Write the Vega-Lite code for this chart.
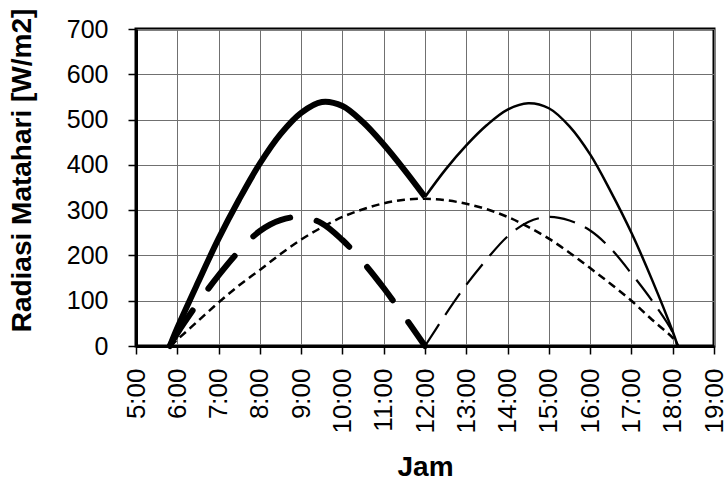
{
  "$schema": "https://vega.github.io/schema/vega-lite/v6.json",
  "width": 578,
  "height": 317,
  "autosize": {"type": "none"},
  "padding": {"left": 136, "top": 29, "right": 13, "bottom": 139},
  "background": "white",
  "config": {
    "font": "Liberation Sans",
    "view": {"stroke": "black", "strokeWidth": 3},
    "axis": {
      "gridColor": "#707070",
      "gridWidth": 1,
      "gridOpacity": 1,
      "domainColor": "black",
      "domainWidth": 3,
      "tickColor": "black",
      "tickWidth": 1.5,
      "tickSize": 8,
      "labelColor": "black",
      "labelFont": "Liberation Sans",
      "labelFontSize": 25,
      "titleColor": "black",
      "titleFont": "Liberation Sans",
      "titleFontSize": 28,
      "titleFontWeight": "bold"
    }
  },
  "data": {
    "values": [
      {"s": "A", "t": 5.82, "v": 0}, {"s": "A", "t": 6.0, "v": 40}, {"s": "A", "t": 6.5, "v": 140}, {"s": "A", "t": 7.0, "v": 237}, {"s": "A", "t": 7.5, "v": 324}, {"s": "A", "t": 8.0, "v": 403}, {"s": "A", "t": 8.5, "v": 468}, {"s": "A", "t": 9.0, "v": 515}, {"s": "A", "t": 9.5, "v": 539}, {"s": "A", "t": 10.0, "v": 530}, {"s": "A", "t": 10.5, "v": 494}, {"s": "A", "t": 11.0, "v": 445}, {"s": "A", "t": 11.5, "v": 389}, {"s": "A", "t": 12.0, "v": 329},
      {"s": "B", "t": 12.0, "v": 329}, {"s": "B", "t": 12.5, "v": 390}, {"s": "B", "t": 13.0, "v": 443}, {"s": "B", "t": 13.5, "v": 488}, {"s": "B", "t": 14.0, "v": 522}, {"s": "B", "t": 14.5, "v": 536}, {"s": "B", "t": 15.0, "v": 525}, {"s": "B", "t": 15.5, "v": 485}, {"s": "B", "t": 16.0, "v": 423}, {"s": "B", "t": 16.5, "v": 341}, {"s": "B", "t": 17.0, "v": 250}, {"s": "B", "t": 17.5, "v": 146}, {"s": "B", "t": 18.0, "v": 32}, {"s": "B", "t": 18.12, "v": 0},
      {"s": "C", "t": 5.82, "v": 0}, {"s": "C", "t": 6.0, "v": 28}, {"s": "C", "t": 6.5, "v": 95}, {"s": "C", "t": 7.0, "v": 156}, {"s": "C", "t": 7.5, "v": 210}, {"s": "C", "t": 8.0, "v": 254}, {"s": "C", "t": 8.5, "v": 278}, {"s": "C", "t": 9.0, "v": 285}, {"s": "C", "t": 9.5, "v": 271}, {"s": "C", "t": 10.0, "v": 234}, {"s": "C", "t": 10.5, "v": 185}, {"s": "C", "t": 11.0, "v": 128}, {"s": "C", "t": 11.5, "v": 65}, {"s": "C", "t": 12.0, "v": 0},
      {"s": "D", "t": 12.0, "v": 0}, {"s": "D", "t": 12.5, "v": 70}, {"s": "D", "t": 13.0, "v": 135}, {"s": "D", "t": 13.5, "v": 192}, {"s": "D", "t": 14.0, "v": 242}, {"s": "D", "t": 14.5, "v": 274}, {"s": "D", "t": 15.0, "v": 285}, {"s": "D", "t": 15.5, "v": 277}, {"s": "D", "t": 16.0, "v": 255}, {"s": "D", "t": 16.5, "v": 215}, {"s": "D", "t": 17.0, "v": 160}, {"s": "D", "t": 17.5, "v": 100}, {"s": "D", "t": 18.0, "v": 30}, {"s": "D", "t": 18.12, "v": 0},
      {"s": "E", "t": 5.83, "v": 0}, {"s": "E", "t": 6.0, "v": 14}, {"s": "E", "t": 6.5, "v": 55}, {"s": "E", "t": 7.0, "v": 96}, {"s": "E", "t": 7.5, "v": 134}, {"s": "E", "t": 8.0, "v": 168}, {"s": "E", "t": 8.5, "v": 203}, {"s": "E", "t": 9.0, "v": 235}, {"s": "E", "t": 9.5, "v": 262}, {"s": "E", "t": 10.0, "v": 285}, {"s": "E", "t": 10.5, "v": 302}, {"s": "E", "t": 11.0, "v": 315}, {"s": "E", "t": 11.5, "v": 323}, {"s": "E", "t": 12.0, "v": 325}, {"s": "E", "t": 12.5, "v": 322}, {"s": "E", "t": 13.0, "v": 314}, {"s": "E", "t": 13.5, "v": 302}, {"s": "E", "t": 14.0, "v": 285}, {"s": "E", "t": 14.5, "v": 263}, {"s": "E", "t": 15.0, "v": 237}, {"s": "E", "t": 15.5, "v": 206}, {"s": "E", "t": 16.0, "v": 172}, {"s": "E", "t": 16.5, "v": 137}, {"s": "E", "t": 17.0, "v": 100}, {"s": "E", "t": 17.5, "v": 58}, {"s": "E", "t": 18.0, "v": 18}, {"s": "E", "t": 18.13, "v": 0}
    ]
  },
  "encoding": {
    "x": {
      "field": "t", "type": "quantitative",
      "scale": {"domain": [5, 19], "nice": false, "zero": false},
      "axis": {
        "title": "Jam", "values": [5,6,7,8,9,10,11,12,13,14,15,16,17,18,19],
        "labelExpr": "datum.value + ':00'", "labelAngle": -90, "labelPadding": 14,
        "labelFontSize": 26, "titlePadding": 20, "grid": true
      }
    },
    "y": {
      "field": "v", "type": "quantitative",
      "scale": {"domain": [0, 700], "nice": false},
      "axis": {
        "title": "Radiasi Matahari [W/m2]", "values": [0,100,200,300,400,500,600,700],
        "labelPadding": 20, "titlePadding": 30, "titleY": 141, "grid": true
      }
    }
  },
  "layer": [
    {"transform": [{"filter": "datum.s === 'E'"}], "mark": {"type": "line", "interpolate": "catmull-rom", "color": "black", "strokeWidth": 2.5, "strokeDash": [8, 5]}},
    {"transform": [{"filter": "datum.s === 'D'"}], "mark": {"type": "line", "interpolate": "catmull-rom", "color": "black", "strokeWidth": 2.2, "strokeDash": [26, 11]}},
    {"transform": [{"filter": "datum.s === 'C'"}], "mark": {"type": "line", "interpolate": "catmull-rom", "color": "black", "strokeWidth": 6, "strokeDash": [42, 27], "strokeCap": "round"}},
    {"transform": [{"filter": "datum.s === 'B'"}], "mark": {"type": "line", "interpolate": "catmull-rom", "color": "black", "strokeWidth": 2.5}},
    {"transform": [{"filter": "datum.s === 'A'"}], "mark": {"type": "line", "interpolate": "catmull-rom", "color": "black", "strokeWidth": 6}}
  ]
}
